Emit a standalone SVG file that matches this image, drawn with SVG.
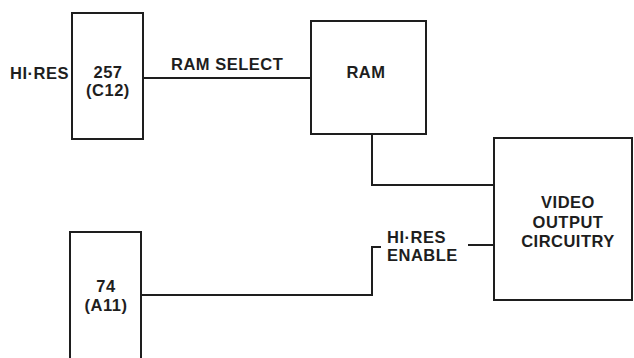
<svg xmlns="http://www.w3.org/2000/svg" width="634" height="358" viewBox="0 0 634 358">
<style>
.box{fill:none;stroke:#1e1e1e;stroke-width:2}
.wire{fill:none;stroke:#1e1e1e;stroke-width:2}
text{font-family:"Liberation Sans",Arial,Helvetica,sans-serif;font-weight:bold;font-size:16.5px;letter-spacing:0.5px;fill:#1e1e1e}
.c{text-anchor:middle}
</style>
<rect width="634" height="358" fill="#ffffff"/>
<g id="connectors">
<path class="wire" d="M143 78 H311"/>
<path class="wire" d="M372 134 V185 H494"/>
<path class="wire" d="M141 295 H372 V247 H381"/>
<path class="wire" d="M468 245 H494"/>
</g>
<g id="hires-input">
<text x="10" y="79">HI·RES</text>
</g>
<g id="chip257">
<rect class="box" x="72" y="13" width="71" height="126"/>
<text class="c" x="108" y="78">257</text>
<text class="c" x="108" y="96">(C12)</text>
</g>
<g id="ram-select-label">
<text x="171" y="70">RAM SELECT</text>
</g>
<g id="ram">
<rect class="box" x="311" y="21" width="115" height="113"/>
<text class="c" x="366" y="78">RAM</text>
</g>
<g id="video">
<rect class="box" x="494" y="138" width="138" height="162"/>
<text class="c" x="568" y="208">VIDEO</text>
<text class="c" x="568" y="228">OUTPUT</text>
<text class="c" x="568" y="247">CIRCUITRY</text>
</g>
<g id="hires-enable-label">
<text x="387" y="243">HI·RES</text>
<text x="387" y="261">ENABLE</text>
</g>
<g id="chip74">
<path class="box" d="M70 360 V232 H141 V360"/>
<text class="c" x="106" y="292">74</text>
<text class="c" x="106" y="311">(A11)</text>
</g>
</svg>
